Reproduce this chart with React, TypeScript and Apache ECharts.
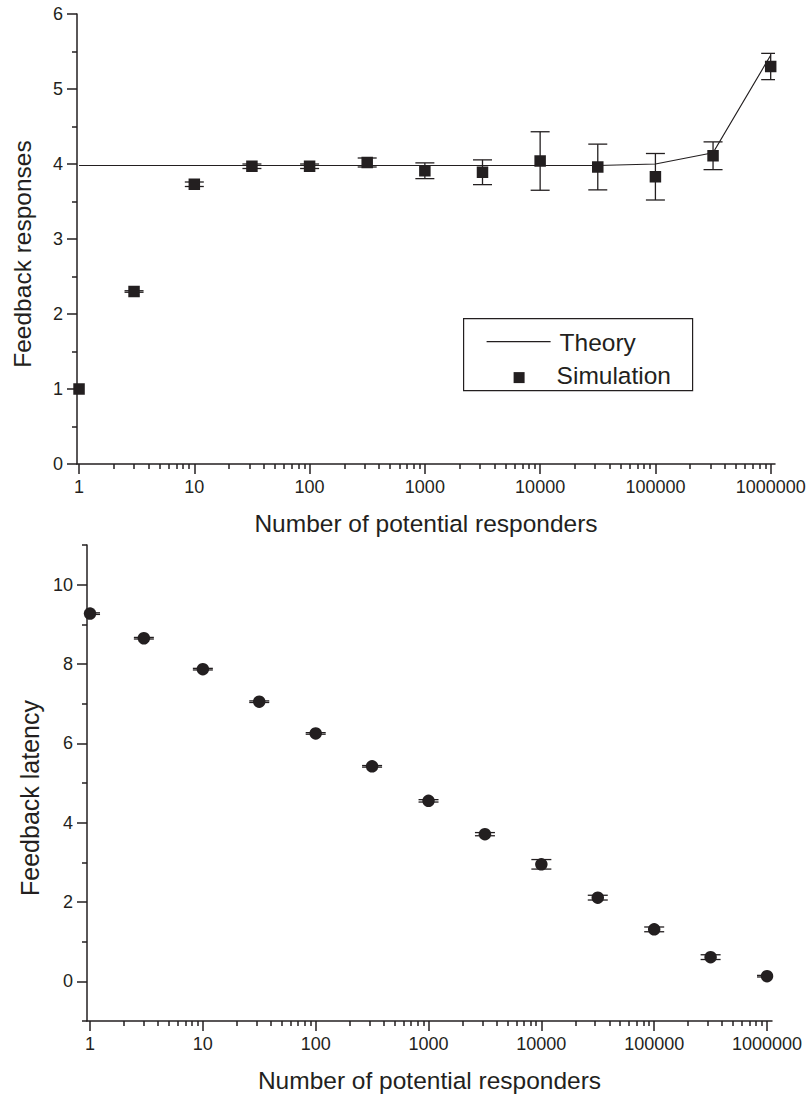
import React, { useEffect, useRef } from "react";
import * as echarts from "echarts";

// ---- data ----
const responders = [1, 3, 10, 31.6, 100, 316, 1000, 3162, 10000, 31623, 100000, 316228, 1000000];
const simResponses = [1.0, 2.3, 3.73, 3.97, 3.97, 4.02, 3.91, 3.89, 4.04, 3.96, 3.83, 4.11, 5.3];
const simResponsesErr = [0, 0.01, 0.03, 0.03, 0.03, 0.06, 0.105, 0.165, 0.39, 0.305, 0.31, 0.185, 0.175];
const theoryResponses = [3.98, 3.98, 3.98, 3.98, 3.98, 3.98, 3.98, 3.98, 3.98, 3.98, 4.0, 4.15, 5.45];
const latency = [9.27, 8.65, 7.87, 7.05, 6.25, 5.42, 4.55, 3.71, 2.95, 2.11, 1.31, 0.61, 0.13];
const latencyErr = [0.02, 0.02, 0.02, 0.02, 0.02, 0.02, 0.03, 0.04, 0.12, 0.06, 0.06, 0.06, 0.02];

const xMajorTicks = [1, 10, 100, 1000, 10000, 100000, 1000000];
const xMinorTicks: number[] = [];
for (let d = 1; d < 1000000; d *= 10) {
  for (let m = 2; m <= 9; m++) xMinorTicks.push(m * d);
}
const latencyMajorTicks = [0, 2, 4, 6, 8, 10];
const latencyMinorTicks = [-1, 1, 3, 5, 7, 9, 11];

const INK = "#231f20";
const FONT = "'Liberation Sans', Arial, Helvetica, sans-serif";
const TITLE_SIZE = 24.5;

function errRenderer(capWidth: number) {
  return (params: any, api: any) => {
    const x = api.value(0);
    const y = api.value(1);
    const e = api.value(2);
    if (!(e > 0)) return { type: "group", children: [] };
    const top = api.coord([x, y + e]);
    const bot = api.coord([x, y - e]);
    const hw = capWidth / 2;
    const style = { stroke: INK, lineWidth: 1.3 };
    return {
      type: "group",
      children: [
        { type: "line", shape: { x1: top[0], y1: top[1], x2: bot[0], y2: bot[1] }, style },
        { type: "line", shape: { x1: top[0] - hw, y1: top[1], x2: top[0] + hw, y2: top[1] }, style },
        { type: "line", shape: { x1: bot[0] - hw, y1: bot[1], x2: bot[0] + hw, y2: bot[1] }, style },
      ],
    };
  };
}

function xAxesFor(gridIndex: number, min: number, max: number) {
  const lineStyle = { color: INK, width: 1.5 };
  return [
    {
      type: "log",
      logBase: 10,
      gridIndex,
      min,
      max,
      position: "bottom",
      axisLine: { show: true, onZero: false, lineStyle },
      axisTick: { show: true, customValues: xMajorTicks, length: 10, lineStyle },
      axisLabel: {
        show: true,
        customValues: xMajorTicks,
        formatter: (v: number) => String(Math.round(v)),
        fontSize: 18,
        color: INK,
        fontFamily: FONT,
        margin: 14,
      },
      splitLine: { show: false },
      minorTick: { show: false },
      name: "Number of potential responders",
      nameLocation: "middle",
      nameGap: 47,
      nameTextStyle: { fontSize: TITLE_SIZE, color: INK, fontFamily: FONT },
    },
    {
      type: "log",
      logBase: 10,
      gridIndex,
      min,
      max,
      position: "bottom",
      offset: 0,
      axisLine: { show: false, onZero: false },
      axisTick: { show: true, customValues: xMinorTicks, length: 5, lineStyle },
      axisLabel: { show: false },
      splitLine: { show: false },
    },
  ];
}

export default function App() {
  const ref = useRef<HTMLDivElement>(null);
  useEffect(() => {
    if (!ref.current) return;
    const chart = echarts.init(ref.current, null, { renderer: "svg" });
    const lineStyle = { color: INK, width: 1.5 };
    const option: any = {
      animation: false,
      backgroundColor: "#ffffff",
      grid: [
        { left: 77, top: 14, width: 698, height: 450 },
        { left: 87, top: 545, width: 685, height: 476 },
      ],
      xAxis: [...xAxesFor(0, 0.96, 1.09e6), ...xAxesFor(1, 0.94, 1.107e6)],
      yAxis: [
        {
          type: "value",
          gridIndex: 0,
          min: 0,
          max: 6,
          interval: 1,
          position: "left",
          axisLine: { show: true, onZero: false, lineStyle },
          axisTick: { show: true, length: 10, lineStyle },
          minorTick: { show: true, splitNumber: 2, length: 5, lineStyle },
          axisLabel: { fontSize: 18, color: INK, fontFamily: FONT, margin: 14 },
          splitLine: { show: false },
          name: "Feedback responses",
          nameLocation: "middle",
          nameGap: 42,
          nameRotate: 90,
          nameTextStyle: { fontSize: TITLE_SIZE, color: INK, fontFamily: FONT, padding: [0, 30, 0, 0] },
        },
        {
          type: "value",
          gridIndex: 1,
          min: -1,
          max: 11,
          position: "left",
          axisLine: { show: true, onZero: false, lineStyle },
          axisTick: { show: true, customValues: latencyMajorTicks, length: 10, lineStyle },
          axisLabel: {
            show: true,
            customValues: latencyMajorTicks,
            fontSize: 18,
            color: INK,
            fontFamily: FONT,
            margin: 14,
          },
          splitLine: { show: false },
          name: "Feedback latency",
          nameLocation: "middle",
          nameGap: 45,
          nameRotate: 90,
          nameTextStyle: { fontSize: TITLE_SIZE + 0.5, color: INK, fontFamily: FONT, padding: [0, 30, 0, 0] },
        },
        {
          type: "value",
          gridIndex: 1,
          min: -1,
          max: 11,
          position: "left",
          offset: 0,
          axisLine: { show: false, onZero: false },
          axisTick: { show: true, customValues: latencyMinorTicks, length: 5, lineStyle },
          axisLabel: { show: false },
          splitLine: { show: false },
        },
      ],
      series: [
        {
          name: "Theory",
          type: "line",
          xAxisIndex: 0,
          yAxisIndex: 0,
          data: responders.map((x, i) => [x, theoryResponses[i]]),
          showSymbol: false,
          symbol: "none",
          lineStyle: { color: INK, width: 1.2 },
          z: 2,
        },
        {
          name: "Simulation error",
          type: "custom",
          xAxisIndex: 0,
          yAxisIndex: 0,
          clip: true,
          renderItem: errRenderer(19),
          data: responders.map((x, i) => [x, simResponses[i], simResponsesErr[i]]),
          z: 3,
        },
        {
          name: "Simulation",
          type: "scatter",
          xAxisIndex: 0,
          yAxisIndex: 0,
          symbol: "rect",
          symbolSize: 11.5,
          itemStyle: { color: INK, opacity: 1 },
          data: responders.map((x, i) => [x, simResponses[i]]),
          z: 4,
        },
        {
          name: "Latency error",
          type: "custom",
          xAxisIndex: 2,
          yAxisIndex: 1,
          clip: true,
          renderItem: errRenderer(20),
          data: responders.map((x, i) => [x, latency[i], latencyErr[i]]),
          z: 3,
        },
        {
          name: "Latency",
          type: "scatter",
          xAxisIndex: 2,
          yAxisIndex: 1,
          symbol: "circle",
          symbolSize: 12.5,
          itemStyle: { color: INK, opacity: 1 },
          data: responders.map((x, i) => [x, latency[i]]),
          z: 4,
        },
      ],
      graphic: [
        {
          type: "group",
          left: 463,
          top: 318,
          children: [
            {
              type: "rect",
              shape: { x: 0, y: 0, width: 229, height: 72 },
              style: { fill: "#fff", stroke: INK, lineWidth: 1.2 },
            },
            {
              type: "line",
              shape: { x1: 23, y1: 23, x2: 87, y2: 23 },
              style: { stroke: INK, lineWidth: 1.2 },
            },
            {
              type: "text",
              x: 96,
              y: 24,
              style: { text: "Theory", fontSize: TITLE_SIZE, fill: INK, fontFamily: FONT, verticalAlign: "middle" },
            },
            {
              type: "rect",
              shape: { x: 50, y: 53.5, width: 11, height: 11 },
              style: { fill: INK },
            },
            {
              type: "text",
              x: 93,
              y: 57,
              style: { text: "Simulation", fontSize: TITLE_SIZE, fill: INK, fontFamily: FONT, verticalAlign: "middle" },
            },
          ],
        },
      ],
    };
    chart.setOption(option);
    return () => chart.dispose();
  }, []);
  return (
    <div
      ref={ref}
      style={{ position: "absolute", left: 0, top: 0, width: 811, height: 1101, background: "#fff" }}
    />
  );
}
